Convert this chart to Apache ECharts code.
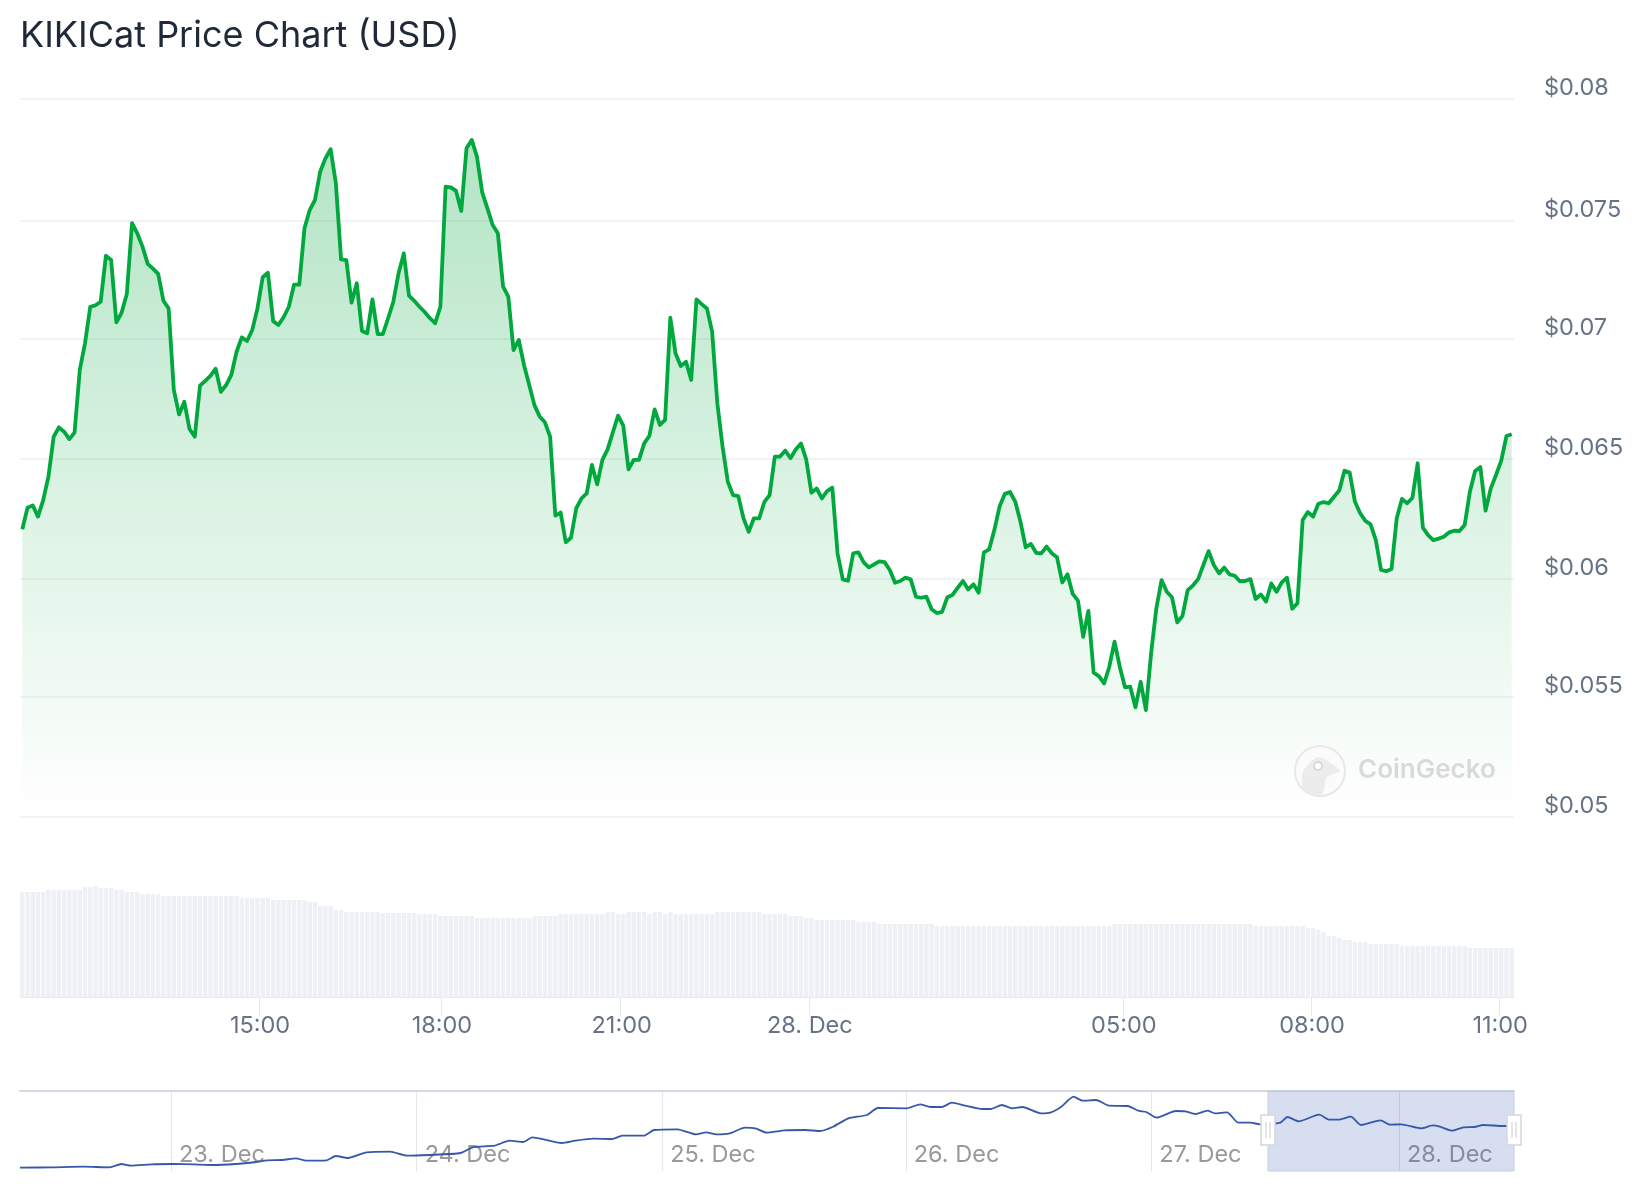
<!DOCTYPE html>
<html>
<head>
<meta charset="utf-8">
<title>KIKICat Price Chart (USD)</title>
<script src="https://cdn.jsdelivr.net/npm/echarts@6/dist/echarts.min.js"></script>
<style>
  html, body { margin: 0; padding: 0; background: #fff; }
  #chart { width: 1644px; height: 1200px; }
</style>
</head>
<body>
<div id="chart"></div>
<script>
// price, one value per 5 minute slot
const prices = [
  0.06202,0.06292,0.06302,0.06255,0.06324,0.06422,0.06589,0.06628,0.06610,0.06579,
  0.06606,0.06868,0.06979,0.07132,0.07138,0.07153,0.07345,0.07327,0.07067,0.07107,
  0.07185,0.07481,0.07439,0.07383,0.07311,0.07291,0.07269,0.07157,0.07125,0.06784,
  0.06682,0.06735,0.06621,0.06589,0.06802,0.06822,0.06843,0.06873,0.06776,0.06805,
  0.06847,0.06944,0.07004,0.06989,0.07035,0.07125,0.07255,0.07274,0.07072,0.07056,
  0.07088,0.07132,0.07224,0.07224,0.07460,0.07536,0.07578,0.07696,0.07752,0.07790,
  0.07648,0.07330,0.07327,0.07149,0.07230,0.07031,0.07021,0.07163,0.07018,0.07018,
  0.07084,0.07153,0.07272,0.07355,0.07178,0.07157,0.07132,0.07110,0.07084,0.07063,
  0.07132,0.07634,0.07631,0.07616,0.07532,0.07794,0.07829,0.07759,0.07610,0.07543,
  0.07474,0.07439,0.07216,0.07174,0.06951,0.06993,0.06889,0.06805,0.06721,0.06673,
  0.06649,0.06589,0.06259,0.06272,0.06148,0.06167,0.06290,0.06331,0.06352,0.06471,
  0.06390,0.06492,0.06536,0.06607,0.06677,0.06635,0.06453,0.06492,0.06492,0.06561,
  0.06593,0.06703,0.06638,0.06659,0.07086,0.06937,0.06884,0.06902,0.06826,0.07163,
  0.07143,0.07125,0.07028,0.06728,0.06547,0.06401,0.06345,0.06341,0.06248,0.06192,
  0.06248,0.06248,0.06317,0.06345,0.06506,0.06506,0.06531,0.06499,0.06536,0.06561,
  0.06494,0.06355,0.06373,0.06331,0.06362,0.06376,0.06102,0.05993,0.05987,0.06102,
  0.06106,0.06064,0.06043,0.06056,0.06068,0.06065,0.06032,0.05979,0.05986,0.06000,
  0.05993,0.05921,0.05916,0.05921,0.05868,0.05852,0.05857,0.05918,0.05928,0.05958,
  0.05986,0.05951,0.05972,0.05937,0.06106,0.06118,0.06199,0.06297,0.06350,0.06358,
  0.06318,0.06234,0.06127,0.06141,0.06104,0.06102,0.06130,0.06102,0.06085,0.05980,
  0.06014,0.05932,0.05904,0.05753,0.05861,0.05603,0.05589,0.05558,0.05628,0.05733,
  0.05628,0.05542,0.05545,0.05458,0.05565,0.05447,0.05684,0.05872,0.05990,0.05941,
  0.05918,0.05813,0.05840,0.05948,0.05967,0.05994,0.06053,0.06111,0.06053,0.06018,
  0.06042,0.06014,0.06008,0.05985,0.05986,0.05994,0.05911,0.05930,0.05900,0.05976,
  0.05941,0.05980,0.06000,0.05870,0.05893,0.06241,0.06274,0.06255,0.06309,0.06316,
  0.06311,0.06338,0.06364,0.06447,0.06439,0.06318,0.06269,0.06237,0.06223,0.06157,
  0.06032,0.06027,0.06036,0.06248,0.06329,0.06311,0.06334,0.06478,0.06209,0.06178,
  0.06157,0.06163,0.06171,0.06189,0.06196,0.06195,0.06220,0.06359,0.06446,0.06462,
  0.06280,0.06373,0.06429,0.06489,0.06592,0.06599
];

// volume per slot, relative units
const volumes = [
  105,105,105,105,105,107,107,107,107,107,107,107,110,110,111,109,109,109,107,107,
  105,105,105,103,103,103,103,101,101,101,101,101,101,101,101,101,101,101,101,101,
  101,101,99,99,99,99,99,99,97,97,97,97,97,97,97,95,95,91,91,91,
  87,87,85,85,85,85,85,85,85,84,84,84,84,84,84,84,83,83,83,83,
  81,81,81,81,81,81,81,79,79,79,79,79,79,79,79,79,79,79,81,81,
  81,81,81,83,83,83,83,83,83,83,83,83,85,85,83,83,85,85,85,85,
  83,85,85,83,85,83,83,83,83,83,83,83,83,85,85,85,85,85,85,85,
  85,85,83,83,83,83,83,81,81,81,79,79,77,77,77,77,77,77,77,77,
  75,75,75,75,73,73,73,73,73,73,73,73,73,73,73,71,71,71,71,71,
  71,71,71,71,71,71,71,71,71,71,71,71,71,71,71,71,71,71,71,71,
  71,71,71,71,71,71,71,71,71,73,73,73,73,73,73,73,73,73,73,73,
  73,73,73,73,73,73,73,73,73,73,73,73,73,73,73,73,71,71,71,71,
  71,71,71,71,71,71,69,69,67,65,61,61,59,57,57,55,55,55,53,53,
  53,53,53,53,51,51,51,51,51,51,51,51,51,51,51,51,51,49,49,49,
  49,49,49,49,49,49
];

const priceTicks = [0.05, 0.05501, 0.05994, 0.06496, 0.06997, 0.0749, 0.08];
const priceLabels = ['$0.05', '$0.055', '$0.06', '$0.065', '$0.07', '$0.075', '$0.08'];

const timeTicks = [45.3, 80.1, 114.5, 150.5, 210.6, 246.6, 282.6];
const timeLabels = ['15:00', '18:00', '21:00', '28. Dec', '05:00', '08:00', '11:00'];

// navigator: hours since 22 Dec 00:00, and the overview line
const navHours = [
  9.23,12.4,15.47,18,19.15,20.07,22.1,24.16,26.2,28,30.3,32.3,33.4,34.9,36.2,37.2,39.2,40.1,41.3,43.1,
  45.4,47.05,49.2,52.3,53.5,55.6,57.1,58.4,59.3,62.2,63.5,65.3,67.1,68.1,70.2,71.2,73.5,75.3,76.3,77.3,
  78.6,80.1,81.1,82.2,83.96,86,87.42,88.7,90.2,92,93.07,95.9,97.2,98.2,99.3,100.3,101.6,103.3,104.1,105.2,
  106.2,107.2,109,110,111,112.2,113.1,114.4,115.7,117.5,118.5,119.3,120.3,122.2,123.1,124.1,125.3,126,127.2,128.3,
  129.5,130.4,132.4,133.1,134.2,136.2,137.2,138.3,139.3,140.3,142.2,143.1,144.2,146.2,147.3,148,149.2,150.3,151.4,152.2,
  154.2,155.2
];
const navValues = [
  3.3,3.7,4.3,3.7,7,5.3,6.7,7,6.7,6,7,9,10.7,11,12.7,10.3,10.7,15,13,18.7,
  19.3,15.3,16,18,23.7,25.3,30.3,29,33.7,28,30.3,32.3,32,35.3,35.3,41,41.7,36.7,38.7,36.7,
  37.7,43.3,42.7,38.3,40.7,41,40,44.3,52.7,56,63,62.7,66.7,64,64,68.3,65.3,62,62,66,
  62.7,64,57.7,58.7,64.3,74.3,70.3,71,65.3,65,60.3,59,53.3,60,59.7,57,60.3,57.7,58.7,48.3,
  48.3,46.7,48.3,54,49.7,56.3,51.3,51.7,54.3,46,50.7,46.3,46.7,42.7,45.7,44.3,40.3,43.7,44,46,
  45,45
];
const dayTicks = [24, 48, 72, 95.8, 119.8, 144];
const dayLabels = ['23. Dec', '24. Dec', '25. Dec', '26. Dec', '27. Dec', '28. Dec'];
const selectedRange = [131.2, 155.24];

const fontFamily = 'Inter, "Noto Sans", sans-serif';
const labelColor = '#677385';

const slotMin = -0.44, slotMax = 285.44;

const chart = echarts.init(document.getElementById('chart'));

const option = {
  animation: false,
  backgroundColor: '#fff',
  title: {
    text: 'KIKICat Price Chart (USD)',
    left: 20,
    top: 18,
    padding: 0,
    textStyle: { color: '#1f2937', fontSize: 36, fontWeight: 400, fontFamily: fontFamily }
  },
  grid: [
    { left: 20, width: 1494, top: 99, height: 718 },
    { left: 20, width: 1494, top: 885, height: 112 },
    { left: 20, width: 1494, top: 1091, height: 80 }
  ],
  xAxis: [
    { type: 'value', gridIndex: 0, min: slotMin, max: slotMax, show: false },
    {
      type: 'value', gridIndex: 1, min: slotMin, max: slotMax,
      axisLine: { lineStyle: { color: '#e9edf1', width: 1 } },
      axisTick: { length: 19, customValues: timeTicks, lineStyle: { color: '#e6e9ee', width: 1 } },
      axisLabel: {
        customValues: timeTicks,
        margin: 17,
        padding: [0, 0, 0, 2],
        color: labelColor,
        fontSize: 23.5,
        fontFamily: fontFamily,
        formatter: v => timeLabels[timeTicks.indexOf(v)]
      },
      splitLine: { show: false }
    },
    {
      type: 'value', gridIndex: 2, position: 'top', min: 9.24, max: 155.24,
      axisLine: { onZero: false, lineStyle: { color: '#d2d9e3', width: 2 } },
      axisTick: { show: false, customValues: dayTicks },
      axisLabel: {
        customValues: dayTicks,
        inside: true,
        margin: 52,
        align: 'left',
        padding: [0, 0, 0, 8],
        color: '#999',
        fontSize: 23.5,
        fontFamily: fontFamily,
        formatter: v => dayLabels[dayTicks.indexOf(v)]
      },
      splitLine: { show: true, lineStyle: { color: '#e3e6eb', width: 1 } }
    }
  ],
  yAxis: [
    {
      type: 'value', gridIndex: 0, position: 'right', min: 0.05, max: 0.08,
      axisLine: { show: false },
      axisTick: { show: false, customValues: priceTicks },
      axisLabel: {
        customValues: priceTicks,
        margin: 30,
        verticalAlign: 'bottom',
        lineHeight: 22,
        color: labelColor,
        fontSize: 23.5,
        fontFamily: fontFamily,
        formatter: v => priceLabels[priceTicks.indexOf(v)]
      },
      splitLine: { show: true, lineStyle: { color: '#eceef1', width: 1.5 } }
    },
    { type: 'value', gridIndex: 1, min: 0, max: 112, show: false },
    { type: 'value', gridIndex: 2, min: 0, max: 80, show: false }
  ],
  series: [
    {
      type: 'line',
      xAxisIndex: 0,
      yAxisIndex: 0,
      data: prices.map((p, i) => [i, p]),
      showSymbol: false,
      lineStyle: { color: '#00a83e', width: 3.8, join: 'round' },
      areaStyle: {
        origin: 'start',
        opacity: 1,
        color: new echarts.graphic.LinearGradient(0, 0, 0, 1, [
          { offset: 0, color: 'rgba(0,168,62,0.3)' },
          { offset: 1, color: 'rgba(0,168,62,0)' }
        ])
      },
      z: 3
    },
    {
      type: 'bar',
      xAxisIndex: 1,
      yAxisIndex: 1,
      data: volumes.map((v, i) => [i, v]),
      barWidth: 4.4,
      clip: false,
      itemStyle: { color: '#edf0f4' }
    },
    {
      type: 'line',
      xAxisIndex: 2,
      yAxisIndex: 2,
      data: navHours.map((h, i) => [h, navValues[i]]),
      showSymbol: false,
      smooth: 0.2,
      lineStyle: { color: '#3558a8', width: 1.8 },
      markArea: {
        silent: true,
        itemStyle: { color: 'rgba(51,92,173,0.2)', borderColor: '#c5cee0', borderWidth: 1 },
        data: [[{ xAxis: selectedRange[0] }, { xAxis: selectedRange[1] }]]
      },
      z: 3
    }
  ],
  graphic: [
    {
      type: 'group',
      x: 1294,
      y: 744,
      silent: true,
      children: [
        { type: 'circle', z: 10, shape: { cx: 26, cy: 27, r: 25 }, style: { fill: '#fbfbfb', stroke: '#e8e8e8', lineWidth: 2 } },
        {
          type: 'polygon',
          z: 11,
          shape: {
            points: [[10, 46], [9, 28], [24, 13], [38, 20], [46, 27], [33, 33], [28, 50]],
            smooth: 0.3
          },
          style: { fill: '#ececec' }
        },
        { type: 'circle', z: 12, shape: { cx: 24, cy: 22, r: 4 }, style: { fill: '#fff', stroke: '#d8d8d8', lineWidth: 2 } }
      ]
    },
    {
      type: 'text',
      x: 1358,
      y: 757,
      silent: true,
      z: 10,
      style: { text: 'CoinGecko', fill: '#d9d9d9', font: '600 26px ' + fontFamily }
    }
  ]
};

chart.setOption(option);

// navigator handles sit on the ends of the selected range
const handle = function (hour) {
  const cx = chart.convertToPixel({ xAxisIndex: 2 }, hour);
  const cy = 1130;
  return {
    type: 'group',
    x: cx,
    y: cy,
    silent: true,
    children: [
      { type: 'rect', z: 20, shape: { x: -7, y: -15, width: 14, height: 30 }, style: { fill: '#fff', stroke: '#d4d6da', lineWidth: 1.5 } },
      { type: 'line', z: 21, shape: { x1: -2, y1: -8, x2: -2, y2: 8 }, style: { stroke: '#c8cbd0', lineWidth: 1 } },
      { type: 'line', z: 21, shape: { x1: 2, y1: -8, x2: 2, y2: 8 }, style: { stroke: '#c8cbd0', lineWidth: 1 } }
    ]
  };
};
chart.setOption({
  graphic: option.graphic.concat([handle(selectedRange[0]), handle(selectedRange[1])])
});
</script>
</body>
</html>
